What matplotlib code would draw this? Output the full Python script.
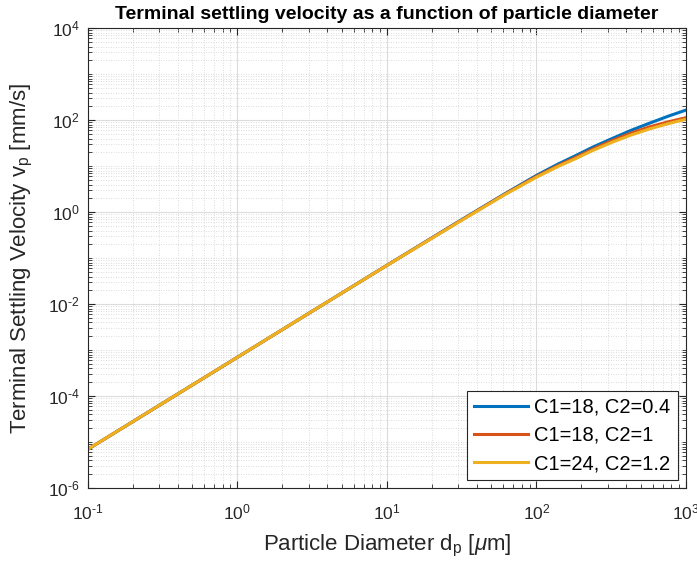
import matplotlib
matplotlib.use("Agg")
import matplotlib.pyplot as plt
from matplotlib.ticker import LogLocator, NullFormatter, FuncFormatter
import math

plt.rcParams["font.family"] = ["Liberation Sans", "DejaVu Sans"]
plt.rcParams["mathtext.fontset"] = "custom"
plt.rcParams["mathtext.rm"] = "Liberation Sans"
plt.rcParams["mathtext.it"] = "Liberation Sans:italic"
plt.rcParams["mathtext.bf"] = "Liberation Sans:bold"

# particle diameter [um] and settling velocity [mm/s]
diameter = [0.1, 1, 3, 10, 30, 60, 100, 140, 179, 240, 320, 430, 570, 760, 1000]
v_c18_c04 = [7.0e-6, 7.0e-4, 6.3e-3, 0.070, 0.62, 2.4, 6.3, 11.2, 16.4, 26.3, 39.8, 60.3, 86, 122, 166]
v_c18_c1 = [7.0e-6, 7.0e-4, 6.3e-3, 0.0697, 0.61, 2.35, 6.0, 10.4, 15.0, 23.8, 35.9, 52.4, 71.6, 92, 113.5]
v_c24_c12 = [7.0e-6, 7.0e-4, 6.3e-3, 0.0695, 0.60, 2.3, 5.75, 9.9, 14.1, 22.2, 33, 47.6, 64.5, 84, 105]
labels = ["C1=18, C2=0.4", "C1=18, C2=1", "C1=24, C2=1.2"]
colors = ["#0072BD", "#D95319", "#EDB120"]


def decade_label(val, pos):
    exp = int(round(math.log10(val)))
    return r"10$^{\text{%d}}$" % exp


fig = plt.figure(figsize=(6.97, 5.65), dpi=100)
ax = fig.add_axes([0.126, 0.136, 0.858, 0.814])

for vals, lab, col in zip([v_c18_c04, v_c18_c1, v_c24_c12], labels, colors):
    ax.plot(diameter, vals, color=col, lw=2.2, label=lab)

ax.set_xscale("log")
ax.set_yscale("log")
ax.set_xlim(0.1, 1000)
ax.set_ylim(1e-6, 1e4)

ax.xaxis.set_major_locator(LogLocator(base=10, numticks=10))
ax.xaxis.set_minor_locator(LogLocator(base=10, subs=range(2, 10), numticks=20))
ax.yaxis.set_major_locator(LogLocator(base=100, numticks=10))
ax.yaxis.set_minor_locator(LogLocator(base=10, subs=range(1, 10), numticks=30))
ax.xaxis.set_major_formatter(FuncFormatter(decade_label))
ax.yaxis.set_major_formatter(FuncFormatter(decade_label))
ax.yaxis.set_minor_formatter(NullFormatter())
ax.xaxis.set_minor_formatter(NullFormatter())

ax.grid(which="major", color="#dcdcdc", lw=0.8, ls="-")
ax.grid(which="minor", color="#d0d0d0", lw=0.6, ls=(0, (1, 2)))
ax.set_axisbelow(True)

ax.tick_params(which="both", direction="in", top=True, right=True, color="#262626")
ax.tick_params(which="major", length=5, labelsize=12.5, labelcolor="#262626")
ax.tick_params(axis="x", which="major", pad=10)
ax.tick_params(axis="y", which="major", pad=6)
ax.tick_params(which="minor", length=3)
for sp in ax.spines.values():
    sp.set_color("#262626")
    sp.set_linewidth(0.8)

ax.set_xlabel(r"Particle Diameter d$_\mathrm{p}$ [$\mu$m]", fontsize=16, color="#262626", labelpad=8)
ax.set_ylabel(r"Terminal Settling Velocity v$_\mathrm{p}$ [mm/s]", fontsize=16, color="#262626", labelpad=9)
ax.set_title("Terminal settling velocity as a function of particle diameter",
             fontsize=14, fontweight="bold", pad=7)

leg = ax.legend(loc="lower right", fontsize=14.5, fancybox=False, framealpha=1,
                edgecolor="#262626", handlelength=2.7, handletextpad=0.3,
                labelspacing=0.45, borderaxespad=0.4, borderpad=0.35)
leg.get_frame().set_linewidth(0.8)

fig.savefig("out.png", dpi=100)
